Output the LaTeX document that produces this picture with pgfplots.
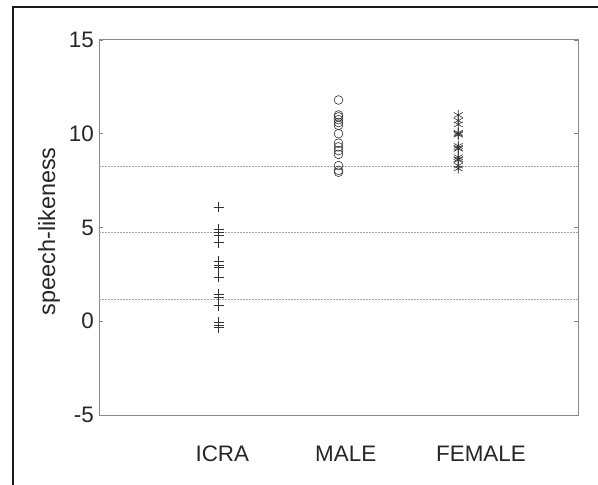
\documentclass[border=0pt]{standalone}
\usepackage{pgfplots}
\pgfplotsset{compat=1.18}
\usepackage{fontspec}
\setmainfont{Liberation Sans}
\definecolor{axgray}{HTML}{8A8A8A}
\definecolor{mk}{HTML}{333333}
\begin{document}
\begin{tikzpicture}
\begin{axis}[
  at={(0,0)}, anchor=south west,
  scale only axis, width=479bp, height=375bp,
  xmin=0, xmax=4, ymin=-5, ymax=15,
  xtick={1.03,2.06,3.19}, xticklabels={ICRA,MALE,FEMALE},
  major x tick style={draw=none},
  ytick={-5,0,5,10,15},
  tick align=inside, major tick length=4bp,
  y tick style={axgray, line width=0.8bp},
  axis line style={axgray, line width=1bp},
  /pgf/number format/assume math mode=true,
  tick label style={font=\fontsize{22.5}{26}\selectfont, text=black!85},
  yticklabel style={inner sep=2bp, xshift=-3bp},
  xticklabel style={anchor=center, yshift=-39bp},
  ylabel={speech-likeness},
  ylabel style={font=\fontsize{23.5}{27}\selectfont, text=black!85, at={(axis description cs:-0.104,0.49)}, anchor=center},
  clip=false,
]
\addplot[black!35, line width=0.7bp, dash pattern=on 1.5bp off 1.5bp] coordinates {(0,8.25) (4,8.25)};
\addplot[black!35, line width=0.7bp, dash pattern=on 1.5bp off 1.5bp] coordinates {(0,4.74) (4,4.74)};
\addplot[black!35, line width=0.7bp, dash pattern=on 1.5bp off 1.5bp] coordinates {(0,1.16) (4,1.16)};
% ICRA
\addplot[only marks, mark=+, mark size=5.2bp, mk, mark options={line width=0.7bp}] coordinates {
(1,6.1) (1,4.9) (1,4.75) (1,4.6) (1,4.2) (1,3.2) (1,3.0) (1,2.85) (1,2.35) (1,1.45) (1,1.3) (1,0.85) (1,-0.05) (1,-0.2) (1,-0.35)};
% MALE
\addplot[only marks, mark=o, mark size=4.4bp, mk, mark options={line width=0.6bp}] coordinates {
(2,11.8) (2,11.0) (2,10.9) (2,10.75) (2,10.6) (2,10.45) (2,10.0) (2,9.5) (2,9.3) (2,9.1) (2,8.9) (2,8.3) (2,8.05) (2,7.95)};
% FEMALE
\addplot[only marks, mark=asterisk, mark size=5.2bp, mk, mark options={line width=0.6bp}] coordinates {
(3,11.0) (3,10.7) (3,10.5) (3,10.05) (3,10.0) (3,9.95) (3,9.35) (3,9.25) (3,9.2) (3,8.75) (3,8.65) (3,8.6) (3,8.3) (3,8.15)};
\end{axis}
\draw[black!90, line width=2.2bp] (-86bp,-80bp) -- (-86bp,408bp) -- (510bp,408bp);
\pgfresetboundingbox
\useasboundingbox (-99bp,-70bp) rectangle (499bp,415bp);
\end{tikzpicture}
\end{document}
